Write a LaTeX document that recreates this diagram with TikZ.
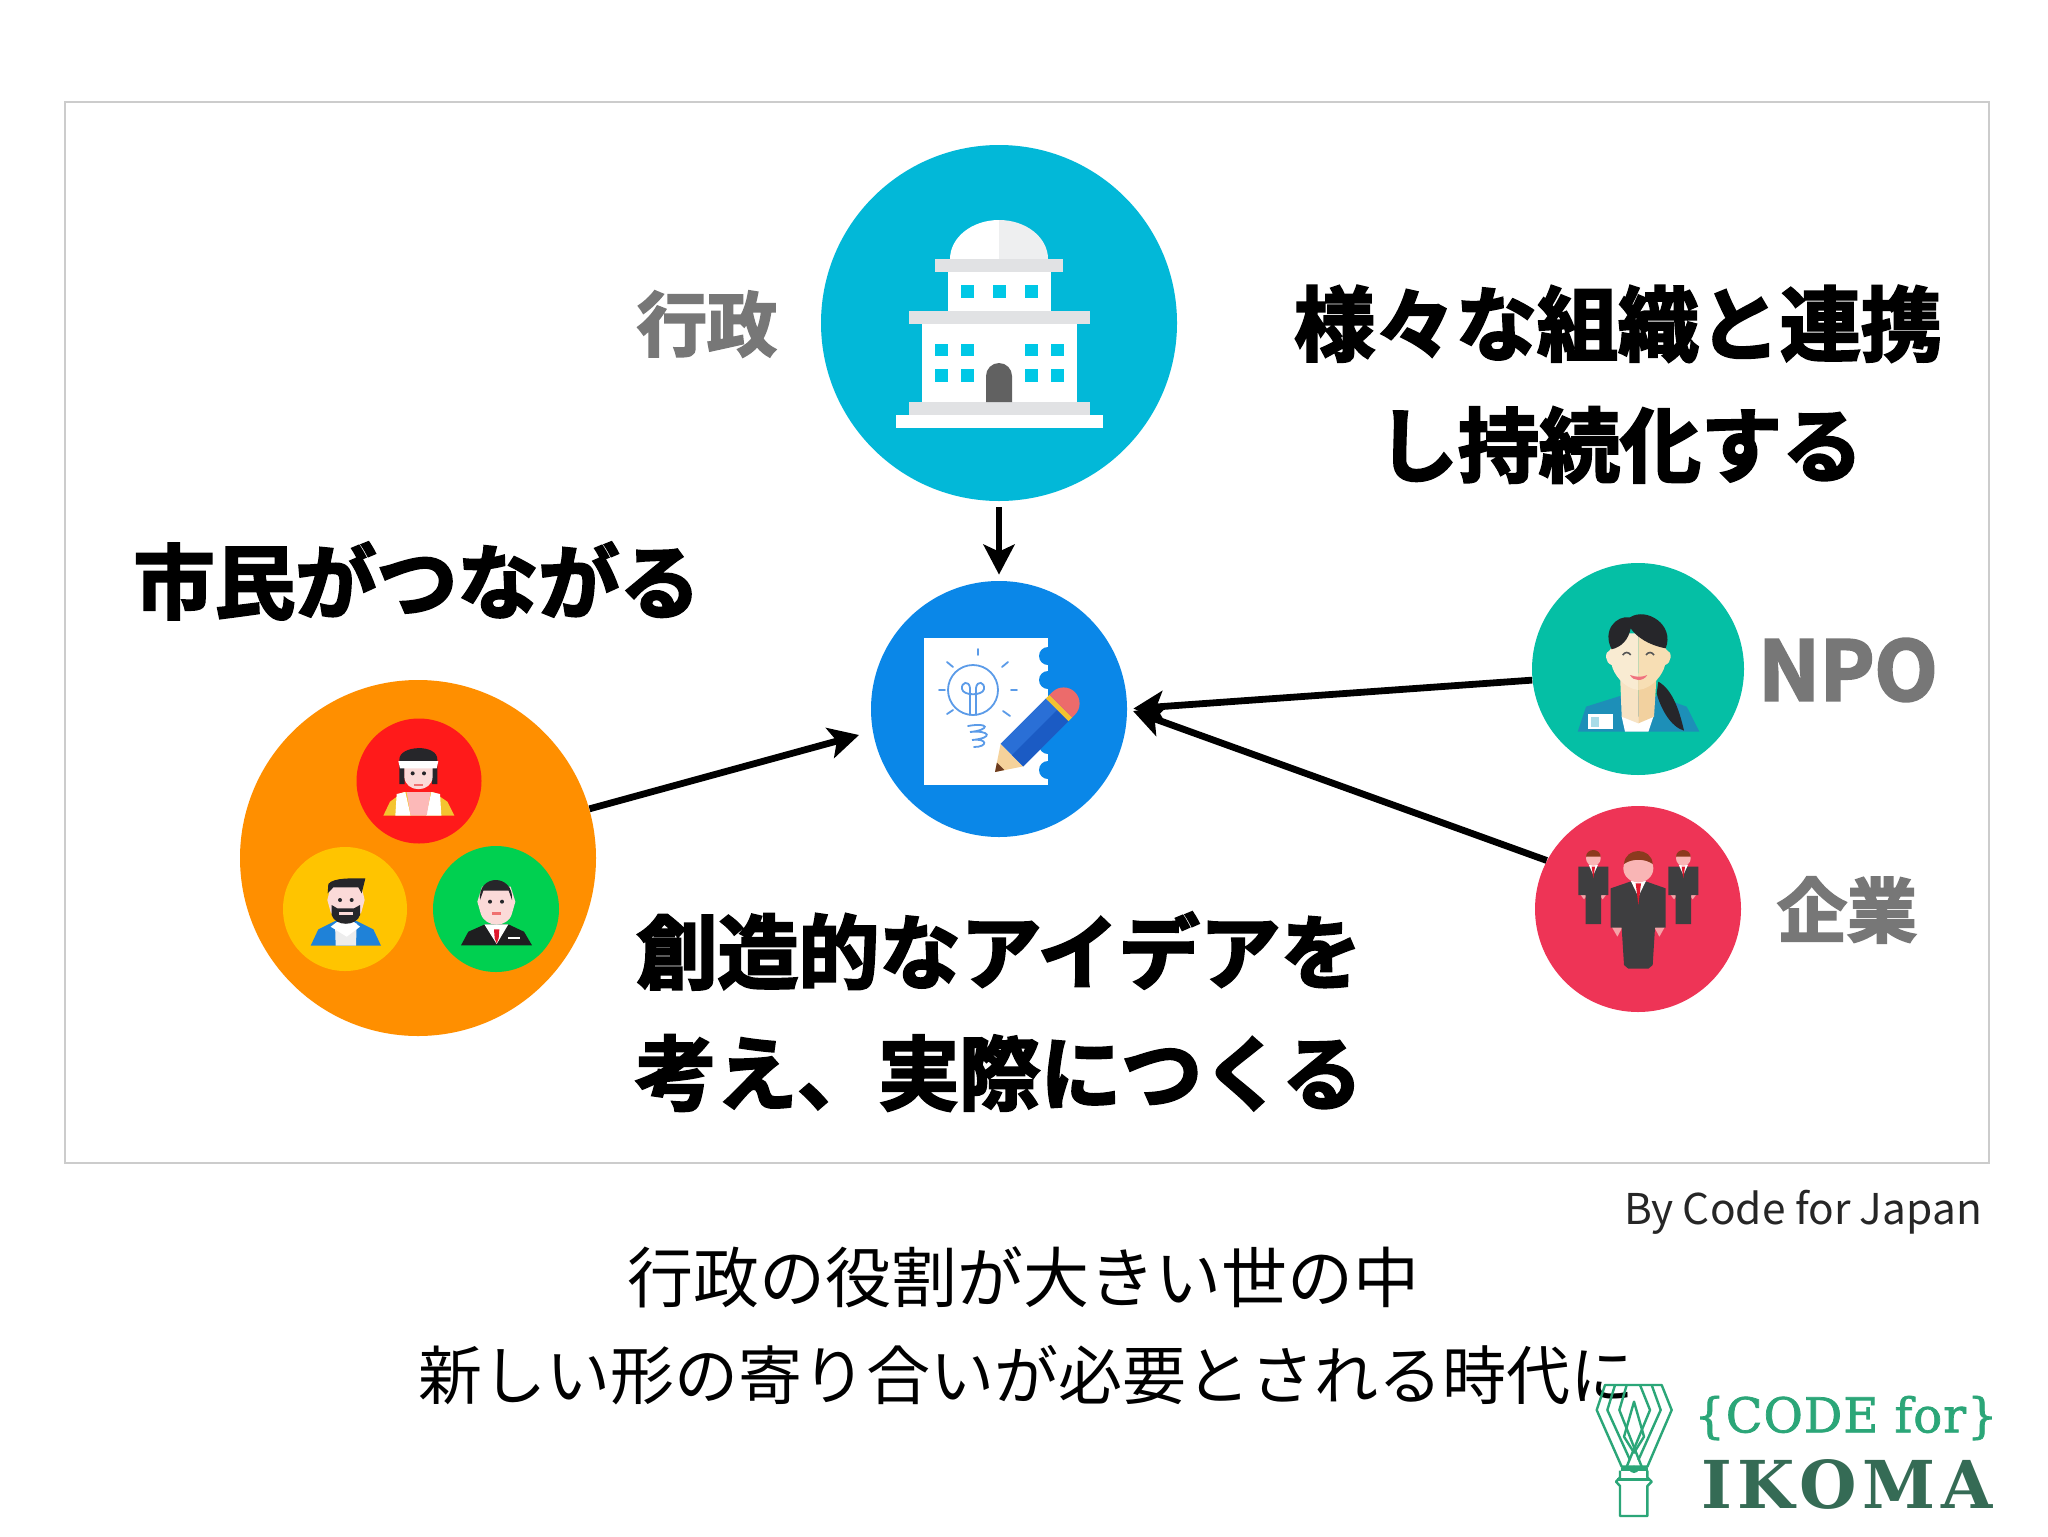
\documentclass[tikz,border=0pt]{standalone}
\usepackage{fontspec}
\usetikzlibrary{arrows.meta}
\newfontfamily\jpblack[FakeBold=3]{Noto Sans CJK JP Bold}
\newfontfamily\jpreg{Noto Sans CJK JP}
\newfontfamily\ikomafont[LetterSpace=9]{DejaVu Serif Bold}
\newfontfamily\codefont[LetterSpace=2,FakeBold=1.5]{DejaVu Serif}
\definecolor{govc}{HTML}{02B8D8}
\definecolor{winc}{HTML}{00C8E6}
\definecolor{ideac}{HTML}{0A87E8}
\definecolor{citc}{HTML}{FF8F00}
\definecolor{redc}{HTML}{FF1A1A}
\definecolor{yelc}{HTML}{FFC400}
\definecolor{grnc}{HTML}{00D050}
\definecolor{npoc}{HTML}{05BFA5}
\definecolor{corpc}{HTML}{EE3456}
\definecolor{graytxt}{HTML}{777777}
\definecolor{framec}{HTML}{CCCCCC}
\definecolor{cornice}{HTML}{E1E2E4}
\definecolor{skin}{HTML}{FBDAD8}
\definecolor{darkh}{HTML}{26262A}
\definecolor{bulb}{HTML}{5B9BE8}
\definecolor{logog}{HTML}{2BA678}
\definecolor{logod}{HTML}{356B55}
\tikzset{
 hx/.code={\definecolor{hxc}{HTML}{#1}\tikzset{color=hxc}},
 hub/.style={circle,inner sep=0pt,minimum size=#1*0.5pt},
 headtxt/.style={inner sep=0pt,text=black,font=\jpblack\fontsize{40.5pt}{48pt}\selectfont},
 graylbl/.style={inner sep=0pt,text=graytxt,font=\jpblack\fontsize{35pt}{42pt}\selectfont},
 captxt/.style={inner sep=0pt,text=black,font=\jpreg\fontsize{33pt}{40pt}\selectfont},
 flow/.style={-{Stealth[length=15pt,width=15.5pt,inset=3.5pt]},line width=3.4pt,black},
 whiskline/.style={logog,line width=1.2pt,line join=round},
}
\begin{document}
\begin{tikzpicture}[x=0.5pt,y=-0.5pt]
\useasboundingbox (0,0) rectangle (2048,1536);
\fill[white] (0,0) rectangle (2048,1536);
\draw[framec,line width=0.9pt] (65,102) rectangle (1989,1163);

% hubs
\node[hub=356,fill=govc] (gov) at (999,323) {};
\node[hub=256,fill=ideac] (idea) at (999,709) {};
\node[hub=356,fill=citc] (cit) at (418,858) {};
\node[hub=125,fill=redc] (cred) at (419,781) {};
\node[hub=124,fill=yelc] (cyel) at (345,909) {};
\node[hub=126,fill=grnc] (cgrn) at (496,909) {};
\node[hub=212,fill=npoc] (npo) at (1638,669) {};
\node[hub=206,fill=corpc] (corp) at (1638,909) {};

% connectors
\draw[flow,shorten <=3pt,shorten >=3pt] (gov) -- (idea);
\draw[flow,shorten >=7pt] (cit.16) -- (idea.190);
\draw[flow,shorten >=3pt] (npo.186.5) -- (idea.east);
\draw[flow,shorten >=3pt] (corp.152.4) -- (idea.east);

% building
\fill[white] (950,259) arc[start angle=180,end angle=90,x radius=49,y radius=-39] -- (999,259) -- cycle;
\fill[cornice!55] (1048,259) arc[start angle=0,end angle=90,x radius=49,y radius=-39] -- (999,259) -- cycle;
\fill[white] (948,272) rectangle (1051,311);
\fill[cornice] (935,259) rectangle (1063,272);
\fill[cornice] (909,311) rectangle (1090,324);
\fill[white] (922,324) rectangle (1077,402);
\fill[cornice] (909,402) rectangle (1090,415);
\fill[white] (896,415) rectangle (1103,428);
\foreach \wx in {961,993,1025} \fill[winc] (\wx,285) rectangle ++(13,13);
\foreach \wx in {935,961,1025,1051}{
 \fill[winc] (\wx,344) rectangle ++(13,12);
 \fill[winc] (\wx,369) rectangle ++(13,13);}
\fill[black!62] (986,402) -- (986,376) arc[start angle=180,end angle=0,x radius=13,y radius=-13] -- (1012,402) -- cycle;

% idea sheet
\fill[white] (924,638) rectangle (1048,785);
\foreach \ny in {656,680,745,770} \fill[ideac] (1048,\ny) circle[radius=9];
\begin{scope}[bulb,line width=0.9pt,line cap=round]
 \draw (973,690) circle[radius=25];
 \draw (970,715) -- (970,688) .. controls (969,680) and (961,682) .. (962,689) .. controls (963,696) and (983,696) .. (984,689) .. controls (985,682) and (977,680) .. (976,688) -- (976,715);
 \draw (968,726) .. controls (990,722) and (990,730) .. (970,732) .. controls (990,730) and (994,738) .. (972,740) .. controls (988,738) and (988,747) .. (974,747);
 \draw (978,649) -- (978,655);
 \draw (947,662) -- (953,667);
 \draw (1008,662) -- (1002,667);
 \draw (939,690) -- (945,690);
 \draw (1017,690) -- (1011,690);
 \draw (947,714) -- (953,710);
 \draw (1010,716) -- (1003,711);
\end{scope}
\begin{scope}[shift={(995,772)},rotate=45]
 \fill[hx=F5D29B] (0,0) -- (24,-16) -- (24,16) -- cycle;
 \fill[hx=6B3A1E] (0,0) -- (8,-5.3) -- (8,5.3) -- cycle;
 \fill[hx=2A6FD6] (24,-16) rectangle (88,16);
 \fill[hx=1B5BC4] (24,0) rectangle (88,16);
 \fill[hx=F2C230] (88,-16) rectangle (93,16);
 \fill[hx=EC6B6B] (93,-16) -- (97,-16) arc[start angle=90,end angle=-90,x radius=16,y radius=-16] -- (93,16) -- cycle;
\end{scope}

% red person (1 unit = 1/3 px)
\begin{scope}[shift={(220,660)},x=0.16667pt,y=-0.16667pt]
 \fill[hx=F4C430] (490,467) -- (510,425) -- (550,396) -- (640,396) -- (682,425) -- (703,467) -- cycle;
 \fill[white] (530,402) -- (556,396) -- (572,467) -- (526,467) -- cycle;
 \fill[white] (660,402) -- (634,396) -- (618,467) -- (664,467) -- cycle;
 \fill[skin!85!red] (560,396) -- (632,396) -- (620,467) -- (572,467) -- cycle;
 \fill[darkh] (538,300) .. controls (535,255) and (655,250) .. (652,300) -- (652,372) -- (636,372) -- (636,320) -- (554,320) -- (554,372) -- (538,372) -- cycle;
 \fill[skin] (553,315) -- (638,315) -- (638,350) .. controls (636,400) and (555,400) .. (553,350) -- cycle;
 \fill[white] (535,303) -- (655,303) -- (650,325) -- (540,325) -- cycle;
 \fill[darkh] (578,340) circle[radius=6] (612,340) circle[radius=6];
 \fill[hx=F07070] (582,372) rectangle (610,379);
\end{scope}
% yellow person
\begin{scope}[shift={(220,660)},x=0.16667pt,y=-0.16667pt]
 \fill[hx=1F82D8] (272,857) -- (295,808) -- (345,783) -- (410,783) -- (460,808) -- (483,857) -- cycle;
 \fill[hx=EDEDED] (345,790) -- (410,790) -- (408,857) -- (347,857) -- cycle;
 \fill[white] (332,800) -- (355,783) -- (398,783) -- (420,800) -- (380,830) -- cycle;
 \fill[skin] (322,720) -- (333,675) -- (423,675) -- (434,720) -- (423,760) -- (333,760) -- cycle;
 \fill[darkh] (335,735) -- (352,745) -- (402,745) -- (420,735) -- (420,765) .. controls (410,800) and (345,800) .. (335,765) -- cycle;
 \fill[skin] (358,755) rectangle (398,765);
 \fill[darkh] (323,700) -- (325,672) .. controls (340,652) and (400,655) .. (436,655) -- (425,700) -- (415,682) -- (340,682) -- cycle;
 \fill[darkh] (360,720) circle[radius=6] (395,720) circle[radius=6];
\end{scope}
% green person
\begin{scope}[shift={(220,660)},x=0.16667pt,y=-0.16667pt]
 \fill[hx=1E1E20] (723,856) -- (745,815) -- (795,793) -- (865,793) -- (912,815) -- (936,856) -- cycle;
 \fill[white] (793,793) -- (865,793) -- (830,852) -- cycle;
 \fill[hx=E0182D] (822,808) -- (838,808) -- (836,835) -- (830,850) -- (824,835) -- cycle;
 \fill[white] (865,830) rectangle (900,838);
 \fill[skin] (772,725) -- (786,680) -- (872,680) -- (886,725) -- (876,760) .. controls (865,805) and (795,805) .. (782,760) -- cycle;
 \fill[darkh] (780,720) .. controls (772,640) and (882,640) .. (876,720) -- (866,692) -- (790,692) -- cycle;
 \fill[darkh] (810,725) circle[radius=6] (846,725) circle[radius=6];
 \fill[hx=F07070] (815,757) rectangle (843,764);
\end{scope}

% NPO person
\begin{scope}[shift={(1500,550)},x=0.16667pt,y=-0.16667pt]
 \fill[hx=1D8FB8] (233,545) -- (258,470) -- (360,438) -- (470,438) -- (560,470) -- (598,545) -- cycle;
 \fill[white] (365,500) -- (460,500) -- (445,545) -- (375,545) -- cycle;
 \fill[hx=F7E3C4] (360,370) -- (415,370) -- (415,520) -- (365,500) -- cycle;
 \fill[hx=F2D19F] (415,370) -- (470,370) -- (462,500) -- (415,520) -- cycle;
 \fill[darkh] (475,395) .. controls (520,420) and (540,490) .. (552,542) .. controls (510,530) and (480,470) .. (470,430) -- cycle;
 \fill[hx=F9EBD2] (415,250) -- (415,420) .. controls (370,415) and (340,370) .. (335,345) .. controls (315,340) and (312,305) .. (330,300) -- (360,250) -- cycle;
 \fill[hx=F7DEB4] (415,250) -- (415,420) .. controls (460,415) and (490,370) .. (495,345) .. controls (515,340) and (518,305) .. (500,300) -- (470,250) -- cycle;
 \fill[darkh] (335,298) .. controls (305,240) and (350,195) .. (390,202) .. controls (440,170) and (525,225) .. (497,295) .. controls (470,290) and (420,275) .. (392,235) .. controls (385,270) and (365,290) .. (335,298) -- cycle;
 \draw[hx=555555,line width=0.8pt] (368,315) .. controls (375,305) and (385,305) .. (392,315);
 \draw[hx=555555,line width=0.8pt] (438,315) .. controls (445,305) and (455,305) .. (462,315);
 \fill[hx=F0727F] (390,375) .. controls (410,382) and (425,382) .. (442,375) .. controls (430,395) and (400,395) .. (390,375) -- cycle;
 \fill[white] (265,492) rectangle (340,538);
 \fill[hx=A8DCE8] (272,500) rectangle (296,530);
\end{scope}

% company people
\begin{scope}[shift={(1500,550)},x=0.16667pt,y=-0.16667pt]
 \foreach \sx in {280,550}{
  \begin{scope}[shift={(\sx,0)}]
   \fill[hx=F5A3A8] (-38,1035) -- (-28,1048) -- (-18,1035) -- cycle;
   \fill[hx=F5A3A8] (38,1035) -- (28,1048) -- (18,1035) -- cycle;
   \fill[hx=3E3E40] (-45,950) -- (45,950) -- (45,1035) -- (23,1035) -- (23,1122) -- (-23,1122) -- (-23,1035) -- (-45,1035) -- cycle;
   \fill[white] (-14,944) -- (14,944) -- (0,975) -- cycle;
   \fill[hx=E0182D] (-5,950) -- (5,950) -- (0,985) -- cycle;
   \fill[hx=F9B5B5] (0,925) circle[radius=22];
   \fill[hx=8B3A1E] (-22,920) arc[start angle=180,end angle=0,x radius=22,y radius=-20] -- cycle;
  \end{scope}}
 \fill[hx=F5A3A8] (335,1130) -- (352,1160) -- (368,1130) -- cycle;
 \fill[hx=F5A3A8] (495,1130) -- (478,1160) -- (462,1130) -- cycle;
 \fill[hx=3E3E40] (332,1015) -- (390,995) -- (440,995) -- (497,1015) -- (497,1133) -- (465,1133) -- (458,1245) -- (445,1256) -- (385,1256) -- (372,1245) -- (365,1133) -- (332,1133) -- cycle;
 \fill[white] (392,992) -- (438,992) -- (415,1040) -- cycle;
 \fill[hx=E0182D] (407,1000) -- (423,1000) -- (415,1065) -- cycle;
 \fill[hx=F9B5B5] (415,955) ellipse[x radius=45,y radius=42];
 \fill[hx=8B3A1E] (372,942) .. controls (375,890) and (455,890) .. (458,942) .. controls (435,925) and (395,925) .. (372,942) -- cycle;
\end{scope}

% texts
\node[headtxt] (t1) at (1618,324) {様々な組織と連携};
\node[headtxt] (t2) at (1620,445) {し持続化する};
\node[headtxt] (t3) at (417,581) {市民がつながる};
\node[headtxt] (t4) at (999,951) {創造的なアイデアを};
\node[headtxt] (t5) at (999,1073) {考え、実際につくる};
\node[graylbl] (l1) at (707,324) {行政};
\node[graylbl,font=\jpblack\fontsize{41pt}{48pt}\selectfont] (l2) at (1848,670) {NPO};
\node[graylbl] (l3) at (1847,910) {企業};
\node[inner sep=0pt,text=black!85,font=\jpreg\fontsize{21.2pt}{26pt}\selectfont] (by) at (1803,1212) {By Code for Japan};
\node[captxt] (c1) at (1023,1277) {行政の役割が大きい世の中};
\node[captxt,font=\jpreg\fontsize{32pt}{40pt}\selectfont] (c2) at (1026,1375) {新しい形の寄り合いが必要とされる時代に};

% logo whisk
\begin{scope}[shift={(1560,1340)},x=0.16667pt,y=-0.16667pt]
 \draw[whiskline] (135,135) -- (305,135) -- (335,210) -- (262,380) -- (185,380) -- (110,210) -- cycle;
 \draw[whiskline] (165,135) -- (142,210) -- (210,360);
 \draw[whiskline] (275,135) -- (302,210) -- (235,360);
 \draw[whiskline] (200,135) -- (178,210) -- (245,380);
 \draw[whiskline] (240,135) -- (270,210) -- (200,380);
 \draw[whiskline] (222,185) -- (192,290) -- (222,338) -- (252,290) -- cycle;
 \draw[logog,line width=1.8pt] (182,388) -- (265,388);
 \fill[logog] (222,388) ellipse[x radius=14,y radius=11];
 \draw[whiskline] (180,392) -- (180,412) -- (168,425) -- (180,438) -- (180,528) -- (262,528) -- (262,438) -- (275,425) -- (262,412) -- (262,392);
 \draw[whiskline] (172,418) -- (270,418);
\end{scope}
\node[inner sep=0pt,text=logog,font=\codefont\fontsize{24pt}{28pt}\selectfont] (code) at (1846,1418) {\{CODE for\}};
\node[inner sep=0pt,text=logod,font=\ikomafont\fontsize{33pt}{40pt}\selectfont] (ikoma) at (1847,1484) {IKOMA};
\end{tikzpicture}
\end{document}
